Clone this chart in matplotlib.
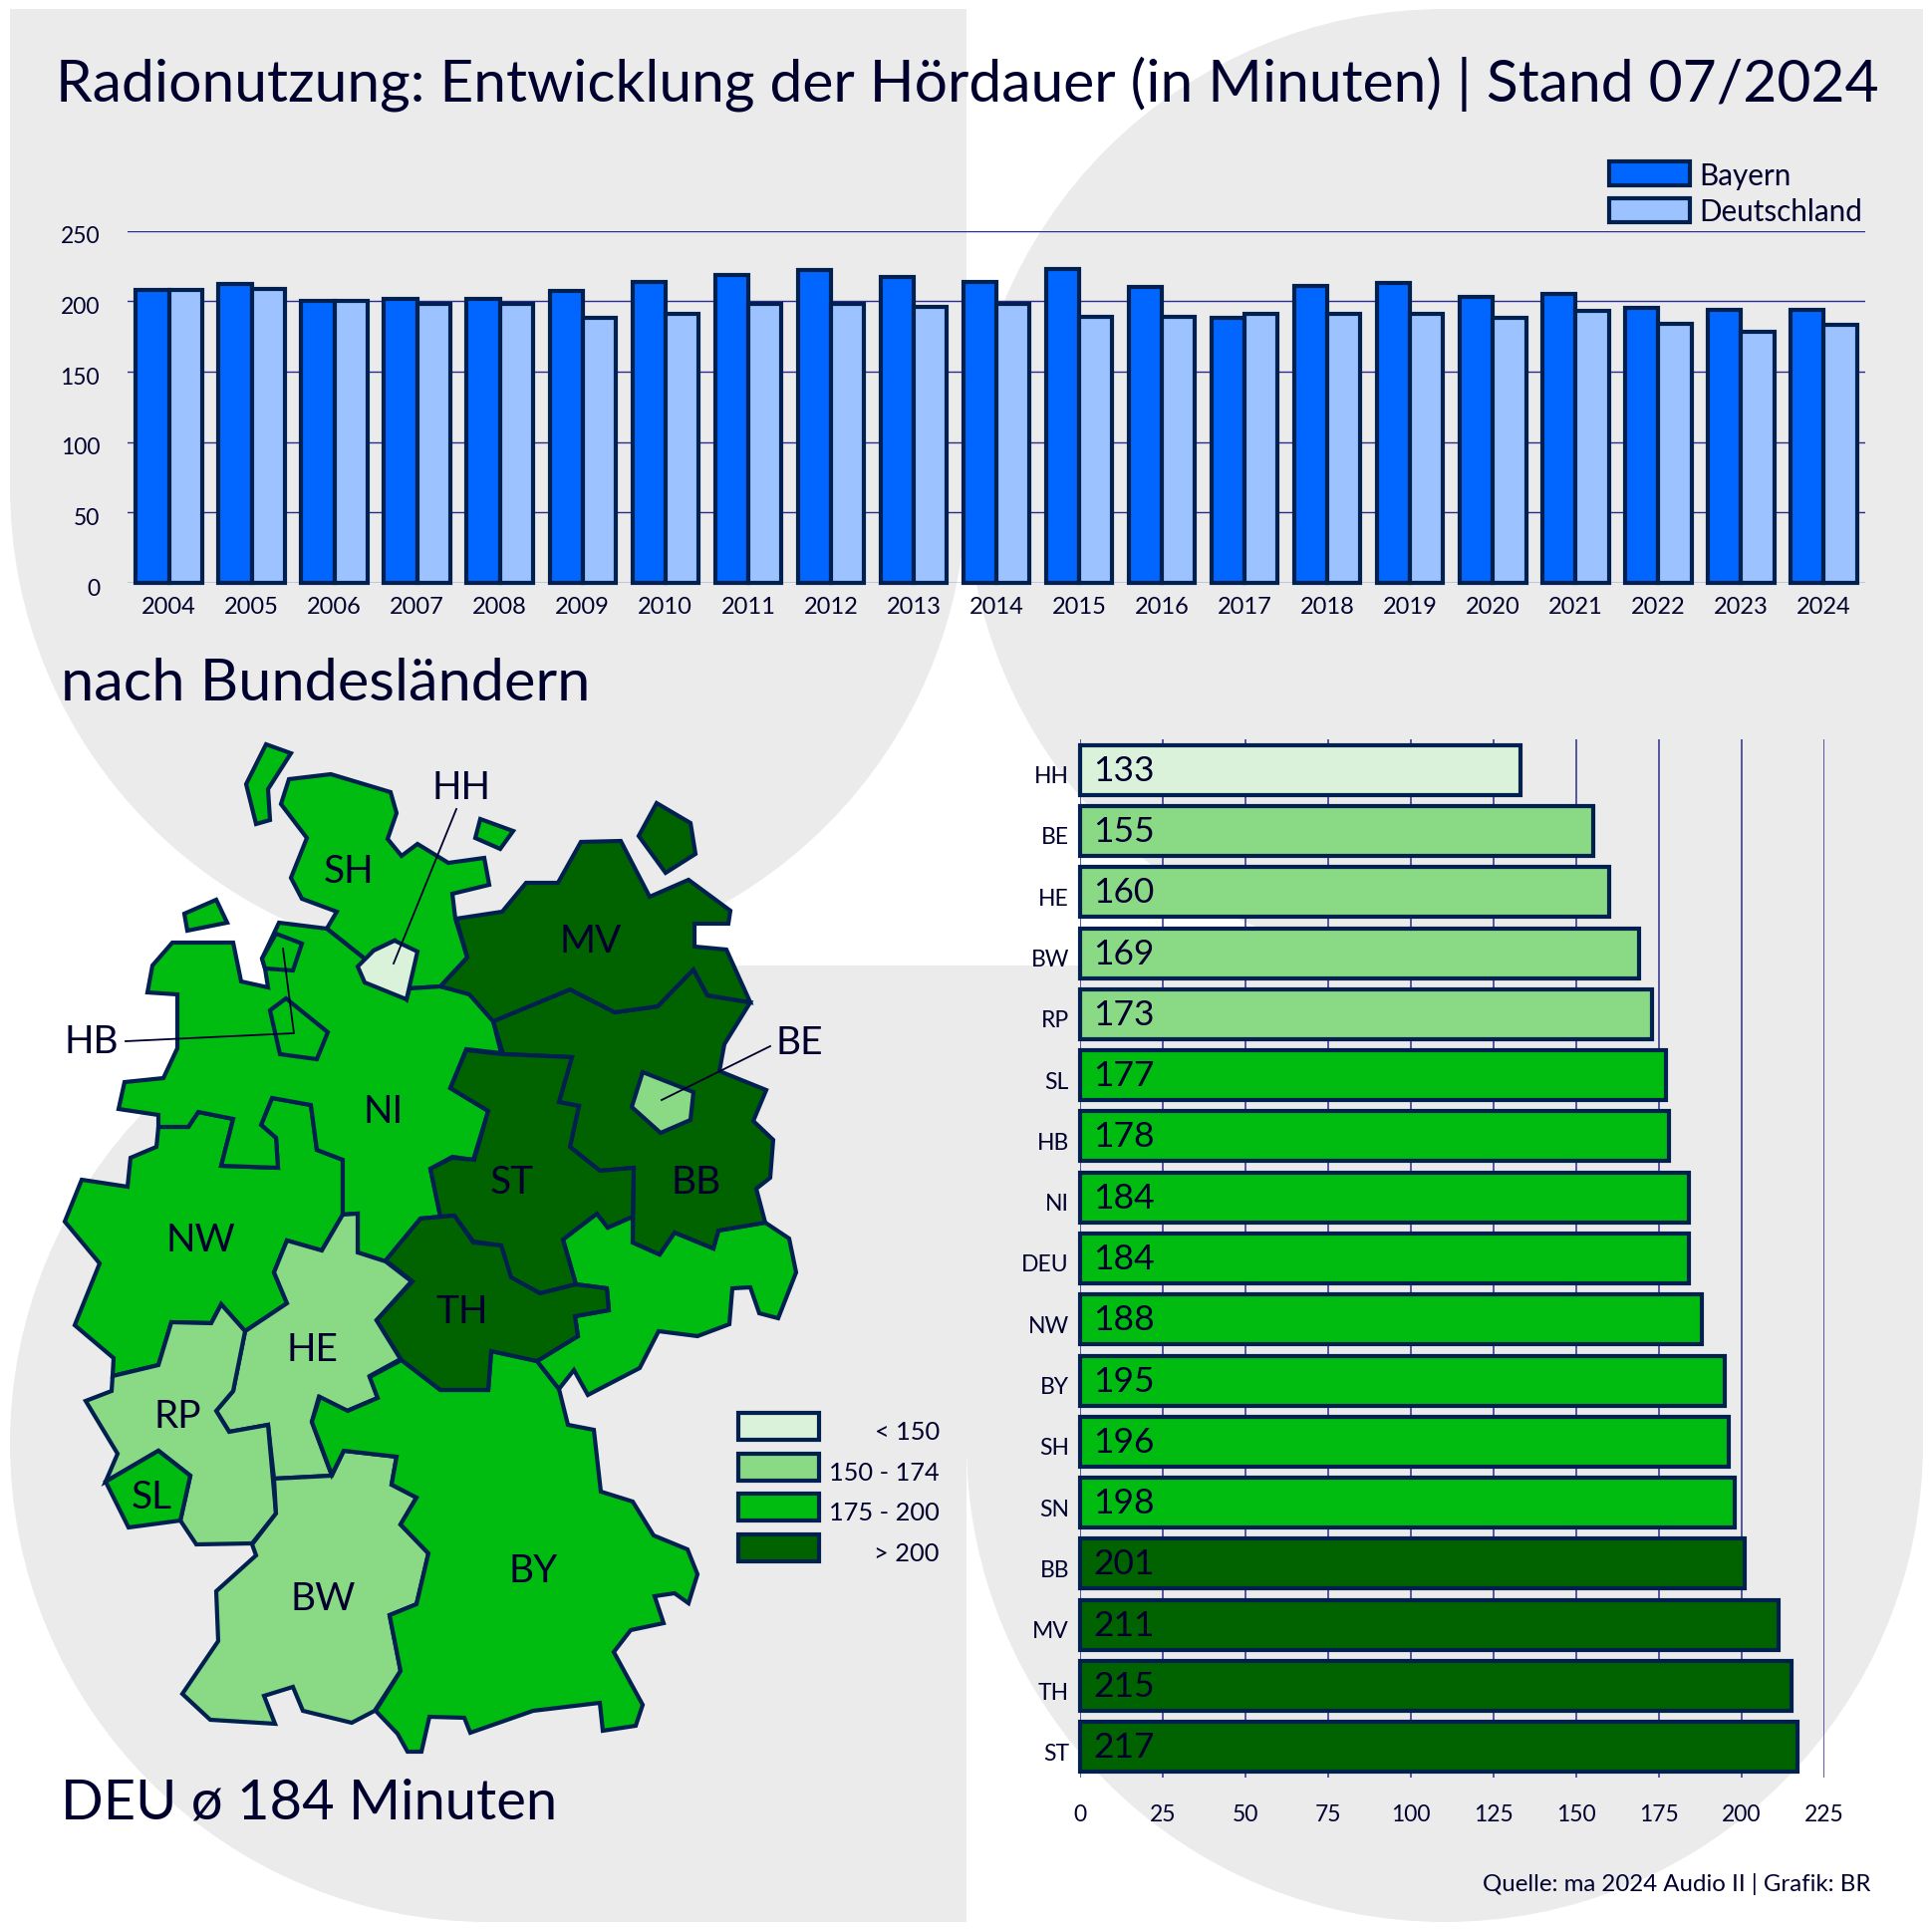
import matplotlib
matplotlib.use("Agg")
import numpy as np
import matplotlib.pyplot as plt
from matplotlib.patches import Circle, Rectangle, Polygon
from matplotlib.transforms import ScaledTranslation

plt.rcParams["font.family"] = ["Lato", "DejaVu Sans"]

# --- data: yearly listening time
years = list(range(2004, 2025))
bayern = [208, 212, 200, 202, 202, 207, 214, 219, 222, 217, 214, 223, 210, 188, 211, 213, 203, 205, 195, 194, 194]
deutschland = [208, 209, 200, 198, 198, 188, 191, 198, 198, 196, 198, 189, 189, 191, 191, 191, 188, 193, 184, 178, 183]

# --- data: federal states
states = ["HH", "BE", "HE", "BW", "RP", "SL", "HB", "NI", "DEU", "NW", "BY", "SH", "SN", "BB", "MV", "TH", "ST"]
minutes = [133, 155, 160, 169, 173, 177, 178, 184, 184, 188, 195, 196, 198, 201, 211, 215, 217]
bin_labels = ["< 150", "150 - 174", "175 - 200", "> 200"]

# --- map outlines (canvas pixels)
SH = [(328,933),(338,916),(303,903),(292,882),(308,842),(282,808),(290,783),(332,778),(392,796),(398,817),(389,843),
      (403,860),(419,848),(450,867),(486,862),(491,889),(454,898),(457,923),(469,962),(442,991),(411,993),(396,945),(375,955),(367,964)]
SYLT = [(267,748),(292,757),(269,793),(271,824),(257,828),(247,788)]
FEHMARN = [(482,823),(515,835),(502,853),(477,842)]
BORKUM = [(217,904),(228,927),(188,935),(185,918)]
RUEGEN = [(659,807),(693,827),(698,858),(668,877),(641,840)]
NI = [(280,927),(328,933),(367,964),(408,1004),(411,993),(442,991),(471,998),(495,1026),(503,1058),(468,1054),(452,1093),
      (490,1116),(475,1165),(454,1162),(432,1174),(442,1222),(422,1224),(387,1267),(359,1258),(359,1219),(344,1220),
      (344,1165),(318,1155),(312,1110),(273,1103),(262,1130),(277,1143),(279,1173),(222,1171),(234,1124),(199,1117),
      (189,1132),(159,1132),(159,1120),(119,1114),(125,1087),(164,1083),(178,1053),(178,999),(148,997),(153,970),
      (173,947),(234,947),(242,986),(269,992),(266,973),(263,963)]
HH = [(396,945),(419,956),(408,1004),(366,987),(359,971),(375,955)]
HB_NORTH = [(277,938),(303,948),(294,975),(266,973),(263,963)]
HB_SOUTH = [(287,1003),(329,1037),(318,1064),(281,1059),(271,1015)]
MV = [(458,923),(504,916),(528,887),(560,887),(583,846),(623,845),(652,901),(691,884),(733,915),(731,928),(697,928),
      (697,951),(729,954),(753,1007),(710,1000),(696,974),(660,1011),(617,1017),(572,994),(495,1026),(471,999),(442,991),(469,962)]
BB = [(495,1026),(572,994),(617,1017),(660,1011),(696,974),(710,1000),(753,1007),(727,1049),(722,1076),(769,1095),
      (756,1126),(776,1145),(773,1183),(759,1194),(768,1228),(721,1236),(716,1254),(677,1238),(662,1260),(635,1248),
      (636,1173),(602,1176),(572,1152),(581,1111),(561,1107),(574,1062),(505,1059)]
BE = [(645,1077),(696,1097),(693,1125),(663,1138),(634,1112)]
ST = [(468,1055),(505,1059),(574,1062),(561,1107),(581,1111),(572,1152),(602,1176),(636,1173),(635,1222),(610,1233),
      (599,1219),(565,1245),(578,1290),(542,1299),(512,1283),(503,1251),(475,1247),(456,1221),(442,1222),(432,1174),
      (454,1163),(476,1165),(490,1116),(452,1093)]
TH = [(422,1224),(456,1221),(475,1248),(503,1251),(513,1283),(542,1299),(578,1290),(609,1294),(611,1316),(577,1322),
      (580,1342),(539,1367),(493,1357),(490,1396),(442,1396),(403,1366),(378,1326),(414,1287),(387,1266)]
SN = [(578,1290),(565,1245),(599,1219),(610,1233),(635,1222),(635,1248),(662,1260),(677,1238),(716,1254),(721,1236),
      (768,1228),(792,1244),(799,1278),(781,1324),(762,1319),(753,1293),(735,1294),(732,1330),(700,1342),(661,1337),
      (642,1374),(590,1401),(576,1376),(561,1395),(539,1367),(580,1342),(577,1322),(611,1316),(609,1294)]
BY = [(539,1367),(561,1395),(570,1431),(596,1436),(603,1498),(635,1508),(656,1542),(690,1556),(700,1581),(691,1610),
      (677,1600),(657,1603),(666,1630),(633,1637),(616,1659),(645,1712),(638,1733),(605,1738),(602,1710),(535,1718),
      (472,1740),(466,1725),(431,1724),(423,1759),(409,1759),(399,1741),(377,1718),(402,1678),(391,1622),(418,1611),
      (430,1560),(402,1531),(418,1504),(393,1491),(398,1463),(345,1457),(333,1481),(313,1428),(321,1403),(349,1417),
      (379,1404),(371,1383),(403,1366),(442,1396),(490,1396),(493,1357)]
BW = [(345,1457),(398,1463),(393,1491),(418,1504),(402,1531),(430,1560),(418,1611),(391,1622),(402,1678),(376,1718),
      (353,1730),(304,1718),(294,1694),(265,1703),(276,1731),(211,1727),(183,1701),(219,1648),(217,1598),(257,1562),
      (253,1551),(277,1520),(275,1485),(333,1482)]
NW = [(82,1185),(128,1192),(131,1163),(157,1152),(159,1132),(189,1132),(199,1117),(234,1124),(222,1171),(279,1173),
      (277,1143),(262,1130),(273,1103),(312,1110),(318,1155),(344,1165),(344,1220),(323,1256),(288,1246),(275,1278),
      (288,1309),(246,1337),(222,1310),(212,1329),(172,1328),(159,1371),(113,1382),(114,1364),(75,1331),(100,1269),(65,1227)]
HE = [(344,1220),(359,1219),(359,1258),(387,1267),(413,1287),(378,1326),(402,1365),(371,1382),(379,1404),(348,1417),
      (320,1403),(313,1428),(333,1482),(275,1485),(269,1431),(230,1438),(217,1417),(234,1397),(246,1337),(288,1309),
      (275,1278),(288,1246),(323,1256)]
RP = [(172,1328),(212,1329),(222,1310),(246,1337),(234,1397),(217,1417),(230,1438),(269,1431),(277,1520),(253,1550),
      (197,1551),(181,1527),(191,1482),(159,1457),(106,1488),(118,1460),(86,1407),(112,1397),(113,1382),(159,1371)]
SL = [(159,1457),(191,1482),(181,1527),(129,1534),(106,1488)]

map_shapes = [("SH", SH), ("SH", SYLT), ("SH", FEHMARN), ("NI", BORKUM), ("MV", RUEGEN), ("NW", NW), ("NI", NI),
              ("HE", HE), ("RP", RP), ("SL", SL), ("BW", BW), ("BY", BY), ("SN", SN), ("BB", BB), ("ST", ST),
              ("TH", TH), ("MV", MV), ("BE", BE), ("HH", HH), ("HB", HB_NORTH), ("HB", HB_SOUTH)]
map_labels = {"SH": (350,875), "NI": (385,1116), "MV": (593,945), "ST": (514,1187), "BB": (699,1187), "NW": (201,1245),
              "HE": (313,1355), "TH": (464,1317), "RP": (178,1422), "SL": (152,1503), "BY": (535,1577), "BW": (324,1605)}
leaders = [("HH", (463,791), [(458,813),(395,968)]),
           ("HB", (92,1046), [(284,953),(295,1038),(126,1046)]),
           ("BE", (802,1047), [(773,1051),(664,1105)])]

# --- styles
W = 1940
GREY = "#ebebeb"
INK = "#00002e"
EDGE = "#00204f"
GRID = "#2c2c8e"
BLUE = "#0066ff"
LIGHTBLUE = "#9cc3ff"
BINS = ["#d9f2d9", "#8ad985", "#00bb10", "#006300"]
STROKE = 3.0


def bin_colour(v):
    if v < 150:
        return BINS[0]
    if v < 175:
        return BINS[1]
    if v <= 200:
        return BINS[2]
    return BINS[3]


def px_axes(x0, y0, x1, y1):
    ax = fig.add_axes([x0 / W, 1 - y1 / W, (x1 - x0) / W, (y1 - y0) / W])
    ax.patch.set_visible(False)
    for s in ax.spines.values():
        s.set_visible(False)
    return ax


def nudge(labels, dy):
    for t in labels:
        t.set_transform(t.get_transform() + ScaledTranslation(0, -dy / 100, fig.dpi_scale_trans))


fig = plt.figure(figsize=(19.4, 19.4), dpi=100, facecolor="white")

# canvas in pixels: background circles, map, legends, headlines
bg = fig.add_axes([0, 0, 1, 1])
bg.set_xlim(0, W)
bg.set_ylim(W, 0)
bg.axis("off")
for c in [(490, 490), (1450, 490), (490, 1450), (1450, 1450)]:
    bg.add_patch(Circle(c, 480, fc=GREY, ec="none"))
for r in [(10, 10, 960, 480), (1450, 10, 480, 960), (490, 970, 480, 960), (970, 970, 960, 480)]:
    bg.add_patch(Rectangle(r[:2], r[2], r[3], fc=GREY, ec="none"))

bg.text(56, 101, "Radionutzung: Entwicklung der Hördauer (in Minuten) | Stand 07/2024", fontsize=42.3, color=INK, va="baseline")
bg.text(61, 703, "nach Bundesländern", fontsize=42.8, color=INK, va="baseline")
bg.text(61, 1826, "DEU ø 184 Minuten", fontsize=40.4, color=INK, va="baseline")
bg.text(1877, 1891, "Quelle: ma 2024 Audio II | Grafik: BR", fontsize=17.3, color=INK, ha="right", va="center")

# map
value_of = dict(zip(states, minutes))
for name, pts in map_shapes:
    bg.add_patch(Polygon(pts, closed=True, fc=bin_colour(value_of[name]), ec=EDGE, lw=STROKE, joinstyle="miter"))
for name, (x, y) in map_labels.items():
    bg.text(x, y, name, fontsize=28, color=INK, ha="center", va="center")
for name, (x, y), line in leaders:
    bg.text(x, y, name, fontsize=28, color=INK, ha="center", va="center")
    xs, ys = zip(*line)
    bg.plot(xs, ys, color=INK, lw=1.3)

# map legend
for i, label in enumerate(bin_labels):
    top = 1417 + i * 40.6
    bg.add_patch(Rectangle((741, top + 2), 81, 27, fc=BINS[i], ec=EDGE, lw=STROKE))
    bg.text(943, 1438 + i * 40.5, label, fontsize=18.3, color=INK, ha="right", va="center")

# bar legend
for i, (label, col) in enumerate([("Bayern", BLUE), ("Deutschland", LIGHTBLUE)]):
    top = 161 + i * 37
    bg.add_patch(Rectangle((1615, top + 2), 81, 24, fc=col, ec=EDGE, lw=STROKE))
    bg.text(1705, top + 16 - i, label, fontsize=21.3, color=INK, ha="left", va="center")

# yearly chart
ax = px_axes(128, 232.7, 1872, 586)
x = np.arange(len(years))
ax.bar(x - 0.2, bayern, 0.4, color=BLUE, edgecolor=EDGE, linewidth=STROKE, zorder=3, clip_on=False)
ax.bar(x + 0.2, deutschland, 0.4, color=LIGHTBLUE, edgecolor=EDGE, linewidth=STROKE, zorder=3, clip_on=False)
ax.set_xlim(-0.5, 20.5)
ax.set_ylim(0, 250)
ax.set_yticks(range(0, 251, 50))
ax.set_xticks(x, years)
ax.grid(axis="y", color=GRID, lw=1.0, zorder=0)
ax.set_axisbelow(True)
ax.tick_params(length=0, labelcolor=INK)
ax.tick_params(axis="x", pad=9, labelsize=17)
ax.tick_params(axis="y", pad=20, labelsize=16.5)
nudge(ax.get_yticklabels(), 3)

# states chart
ax2 = px_axes(1084, 743, 1831, 1785)
y = np.arange(len(states))
ax2.barh(y, minutes, 0.815, color=[bin_colour(v) for v in minutes], edgecolor=EDGE, linewidth=STROKE, zorder=3, clip_on=False)
for i, v in enumerate(minutes):
    ax2.text(4.0, i, str(v), fontsize=25.5, color=INK, ha="left", va="center", zorder=4)
ax2.set_xlim(0, 225)
ax2.set_ylim(16.5, -0.5)
ax2.set_xticks(range(0, 226, 25))
ax2.set_yticks(y, states)
ax2.grid(axis="x", color=GRID, lw=1.1, zorder=0)
ax2.set_axisbelow(True)
ax2.tick_params(length=0, labelsize=16.5, labelcolor=INK)
ax2.tick_params(axis="x", pad=19)
ax2.tick_params(axis="y", pad=8)
nudge(ax2.get_yticklabels(), 4)

fig.savefig("out.png", dpi=100)
